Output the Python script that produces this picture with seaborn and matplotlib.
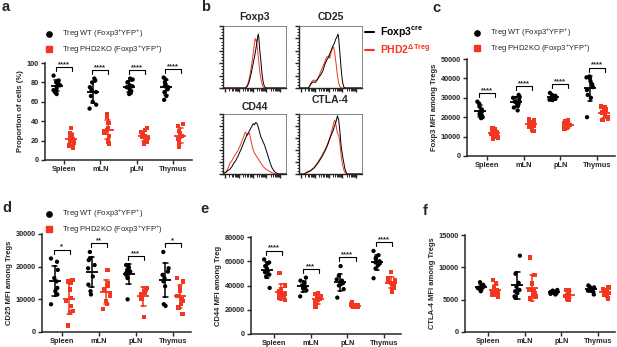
import numpy as np
import pandas as pd
import seaborn as sns
import matplotlib.pyplot as plt
from matplotlib.lines import Line2D

sns.set_style("ticks")
plt.rcParams['font.family'] = ['Liberation Sans', 'DejaVu Sans']
plt.rcParams['mathtext.fontset'] = 'custom'
plt.rcParams['mathtext.rm'] = 'Liberation Sans'
plt.rcParams['mathtext.bf'] = 'Liberation Sans:bold'
plt.rcParams['mathtext.it'] = 'Liberation Sans:italic'
np.random.seed(7)  # only for horizontal jitter of the dots

W, H = 617, 347
RED = '#f2361f'
tissues = ["Spleen", "mLN", "pLN", "Thymus"]
groups = ["WT", "KO"]
wt_label = r"Treg WT (Foxp3$^{+}$YFP$^{+}$)"
ko_label = r"Treg PHD2KO (Foxp3$^{+}$YFP$^{+}$)"

# a: proportion of cells (%)
prop_wt = [[87, 82, 80, 79, 77, 76, 74, 72, 70, 68],
           [84, 82, 80, 75, 72, 70, 66, 60, 57, 53],
           [84, 83, 80, 77, 76, 75, 73, 71, 69, 68],
           [85, 83, 80, 78, 76, 75, 73, 70, 66, 62]]
prop_ko = [[33, 28, 26, 24, 22, 21, 20, 18, 15, 13],
           [47, 44, 38, 33, 31, 30, 28, 25, 19, 17],
           [33, 31, 29, 27, 25, 24, 23, 21, 19, 17],
           [37, 35, 30, 28, 25, 24, 22, 19, 16, 14]]
# c: Foxp3 MFI
foxp3_wt = [[28000, 27000, 25500, 24000, 23000, 22500, 21500, 21000, 20000, 19500],
            [31500, 30500, 30000, 29000, 28000, 27500, 27000, 26000, 25000, 23500],
            [32500, 31500, 31000, 30500, 30000, 30000, 29500, 29500, 29000, 28800],
            [41000, 40500, 40000, 38500, 37000, 35500, 34000, 31500, 30000, 20000]]
foxp3_ko = [[14500, 14000, 13000, 12500, 12000, 11500, 11000, 10000, 9500, 9000],
            [19000, 18500, 18000, 17500, 16500, 16000, 15500, 15000, 13500, 13000],
            [18500, 18000, 17000, 16500, 16000, 15500, 15000, 14500, 14000, 13800],
            [25500, 25000, 24000, 23500, 22500, 22000, 21000, 20000, 19000, 18500]]
# d: CD25 MFI
cd25_wt = [[22500, 21500, 19000, 16500, 15500, 13500, 12500, 11500, 8500],
           [24500, 22500, 22000, 20500, 19500, 17000, 14500, 12500, 11500],
           [20500, 20000, 19500, 19000, 18500, 18000, 17500, 16500, 10000],
           [24500, 19500, 18500, 17500, 16500, 15500, 14000, 8500, 8000]]
cd25_ko = [[16000, 15500, 15000, 13000, 10500, 9500, 8000, 6500, 6000, 2000],
           [19000, 15000, 14000, 13000, 12000, 11000, 9500, 8500, 7000],
           [13500, 13000, 12500, 12000, 11500, 10500, 10000, 4500],
           [16500, 15500, 13500, 12500, 11000, 10000, 9500, 8500, 7500, 5500]]
# e: CD44 MFI
cd44_wt = [[61500, 59000, 58000, 56000, 54000, 52000, 51000, 49000, 47500, 38000],
           [46500, 44000, 42000, 40000, 39000, 38500, 37500, 36000, 31000],
           [56000, 48000, 45000, 44000, 43000, 42000, 41000, 40000, 37000, 30000],
           [68500, 65000, 63000, 62000, 60000, 59000, 58000, 56500, 54000, 46000]]
cd44_ko = [[50500, 40000, 37000, 35000, 34000, 33000, 32000, 30500, 29500, 28000],
           [34000, 33000, 31500, 30000, 29000, 28500, 27500, 25000, 22000],
           [26000, 25000, 24000, 23500, 23500, 23000, 23000, 22500, 22500, 22000],
           [51000, 46000, 44000, 43000, 42000, 41000, 40000, 38000, 35000]]
# f: CTLA-4 MFI
ctla4_wt = [[7700, 7300, 7100, 7000, 6900, 6800, 6700, 6500, 6300],
            [11800, 9000, 7600, 7000, 6500, 6300, 6000, 5500, 5300],
            [6500, 6400, 6300, 6200, 6200, 6100, 6100, 6000, 5900, 5800],
            [7200, 7000, 6900, 6700, 6600, 6500, 6400, 6200, 5800]]
ctla4_ko = [[8000, 7500, 6900, 6500, 6300, 6100, 6000, 5900, 5700, 5500],
            [11500, 8800, 7500, 6500, 6300, 6000, 5800, 5500, 5300, 5200],
            [6500, 6400, 6200, 6000, 5800, 5700, 5600, 5400, 5200, 5000],
            [6900, 6700, 6500, 6300, 6200, 6100, 6000, 5800, 5600, 5200]]

# b: flow histograms (x = % of axis, y = % of max)
foxp3_x_b = [0, 36, 38, 41, 44, 47, 50, 52, 54, 55, 56, 57, 58, 60, 62, 64, 66, 68, 100]
foxp3_y_b = [0, 0, 2, 8, 20, 35, 50, 62, 75, 82, 87, 80, 65, 45, 22, 8, 2, 0, 0]
foxp3_x_r = [0, 35, 38, 41, 44, 47, 49, 51, 52, 53, 55, 57, 59, 61, 63, 65, 100]
foxp3_y_r = [0, 0, 3, 12, 28, 48, 65, 80, 76, 78, 60, 40, 22, 10, 3, 0, 0]
cd25_x_b = [0, 15, 17, 20, 23, 26, 29, 32, 35, 38, 41, 44, 47, 50, 53, 56, 58, 60, 62, 63, 65, 67, 69, 71, 73, 100]
cd25_y_b = [0, 0, 3, 8, 10, 9, 13, 18, 22, 28, 38, 45, 50, 58, 66, 72, 78, 82, 87, 80, 55, 30, 10, 2, 0, 0]
cd25_x_r = [0, 15, 17, 20, 23, 26, 29, 32, 35, 38, 41, 44, 47, 49, 51, 53, 55, 57, 59, 61, 63, 65, 67, 100]
cd25_y_r = [0, 0, 4, 10, 13, 12, 14, 20, 28, 35, 42, 50, 52, 48, 58, 64, 66, 55, 38, 20, 8, 2, 0, 0]
cd44_x_b = [0, 5, 8, 11, 14, 17, 20, 23, 26, 29, 32, 35, 38, 41, 44, 46, 48, 50, 52, 54, 56, 58, 60, 63, 66, 69, 72, 75, 78, 81, 84, 88, 100]
cd44_y_b = [0, 3, 6, 8, 12, 18, 22, 28, 35, 42, 50, 58, 65, 70, 76, 80, 84, 82, 86, 84, 78, 70, 62, 55, 48, 38, 28, 18, 10, 5, 2, 0, 0]
cd44_x_r = [0, 5, 8, 11, 14, 17, 20, 23, 26, 29, 32, 34, 36, 38, 40, 42, 44, 46, 48, 50, 53, 56, 59, 62, 66, 70, 74, 78, 83, 100]
cd44_y_r = [0, 4, 10, 18, 22, 28, 33, 38, 44, 52, 60, 66, 70, 64, 66, 68, 58, 48, 40, 35, 30, 25, 20, 15, 10, 7, 4, 2, 0, 0]
ctla4_x_b = [0, 8, 12, 18, 24, 30, 36, 42, 46, 50, 54, 57, 59, 61, 63, 65, 67, 70, 73, 76, 100]
ctla4_y_b = [0, 0, 2, 5, 10, 18, 28, 40, 50, 62, 72, 82, 88, 97, 90, 70, 45, 25, 8, 0, 0]
ctla4_x_r = [0, 8, 12, 18, 24, 30, 36, 42, 46, 50, 53, 55, 57, 59, 61, 63, 65, 67, 69, 72, 75, 100]
ctla4_y_r = [0, 0, 3, 6, 11, 20, 30, 42, 52, 64, 76, 85, 90, 80, 68, 65, 50, 30, 15, 4, 0, 0]


def rect(l, t, r, b):
    return [l / W, 1 - b / H, (r - l) / W, (b - t) / H]


def to_long(wt, ko):
    rows = []
    for t, w, k in zip(tissues, wt, ko):
        rows += [(t, "WT", v) for v in w]
        rows += [(t, "KO", v) for v in k]
    return pd.DataFrame(rows, columns=["tissue", "group", "value"])


def scatter_panel(box, wt, ko, ymax, step, ylabel, stars, xlim):
    ax = fig.add_axes(rect(*box))
    df = to_long(wt, ko)
    pal = {"WT": "black", "KO": RED}
    for g, m in zip(groups, ["o", "s"]):
        sns.stripplot(data=df[df.group == g], x="tissue", y="value", hue="group",
                      hue_order=groups, order=tissues, dodge=True, jitter=0.2,
                      palette=pal, marker=m, size=3.1, legend=False, ax=ax)
    sns.pointplot(data=df, x="tissue", y="value", hue="group", hue_order=groups,
                  order=tissues, dodge=0.4, palette=pal, errorbar="sd", markers="_",
                  markersize=9, markeredgewidth=1.3, linestyle="none", capsize=0.12,
                  err_kws={"linewidth": 1.1}, legend=False, ax=ax)
    if stars:
        for i, t in enumerate(tissues):
            top = df[df.tissue == t].value.max()
            yb = top + 0.09 * ymax
            ax.plot([i - 0.22, i - 0.22, i + 0.22, i + 0.22],
                    [yb - 0.04 * ymax, yb, yb, yb - 0.04 * ymax],
                    color="black", lw=0.8, clip_on=False)
            ax.text(i, yb - 0.01 * ymax, stars[i], ha="center", va="bottom",
                    fontsize=5.5, fontweight="bold")
    ax.set_xlim(xlim)
    ax.set_ylim(0, ymax)
    ax.set_yticks(np.arange(0, ymax + 1, step))
    ax.set_xlabel("")
    ax.set_ylabel(ylabel, fontsize=5.5, fontweight="bold", labelpad=2)
    ax.tick_params(labelsize=5.3, width=1, length=3, pad=1.5)
    for lab in ax.get_xticklabels() + ax.get_yticklabels():
        lab.set_fontweight("bold")
    sns.despine(ax=ax)
    ax.spines[["left", "bottom"]].set_linewidth(1.1)
    return ax


def scatter_legend(ax, x, y):
    h = [Line2D([], [], ls="none", marker="o", color="black", ms=3.8),
         Line2D([], [], ls="none", marker="s", color=RED, ms=3.8)]
    ax.legend(h, [wt_label, ko_label], loc="upper left", bbox_to_anchor=(x / W, 1 - y / H),
              bbox_transform=fig.transFigure, frameon=False, fontsize=5.5,
              handlelength=1, handletextpad=1.2, labelspacing=0.45,
              borderpad=0, borderaxespad=0)


def hist_panel(box, title, bx, by, rx, ry, pad):
    ax = fig.add_axes(rect(*box))
    sns.lineplot(x=rx, y=ry, color=RED, lw=0.7, estimator=None, ax=ax)
    sns.lineplot(x=bx, y=by, color="black", lw=0.7, estimator=None, ax=ax)
    ax.set_xlim(0, 100)
    ax.set_ylim(0, 100)
    dec = [3, 25, 47, 69]
    ax.set_xticks(dec + [91])
    ax.set_xticks([d + 22 * np.log10(k) for d in dec for k in range(2, 10)], minor=True)
    ax.set_yticks(np.arange(0, 101, 20))
    ax.set_yticks(np.arange(0, 101, 5), minor=True)
    ax.tick_params(labelbottom=False, labelleft=False, length=3, width=1.0, pad=1)
    ax.tick_params(which="minor", length=1.8, width=0.7)
    for s in ["top", "right"]:
        ax.spines[s].set_linewidth(0.5)
        ax.spines[s].set_color("#555555")
    ax.spines[["left", "bottom"]].set_linewidth(1.0)
    ax.set_title(title, fontsize=7.5, fontweight="bold", pad=pad)
    return ax


fig = plt.figure(figsize=(W / 100, H / 100), dpi=100)

ax_a = scatter_panel((45, 63, 192, 160), prop_wt, prop_ko, 100, 20,
                     "Proportion of cells (%)", ["****"] * 4, (-0.52, 3.52))
scatter_legend(ax_a, 45, 28)
ax_c = scatter_panel((467, 59, 615, 156), foxp3_wt, foxp3_ko, 50000, 10000,
                     "Foxp3 MFI among Tregs", ["****"] * 4, (-0.55, 3.49))
scatter_legend(ax_c, 473, 27)
ax_d = scatter_panel((42, 234, 191, 332), cd25_wt, cd25_ko, 30000, 10000,
                     "CD25 MFI among Tregs", ["*", "**", "***", "*"], (-0.54, 3.49))
scatter_legend(ax_d, 45, 208)
ax_e = scatter_panel((251, 237, 401, 334), cd44_wt, cd44_ko, 80000, 20000,
                     "CD44 MFI among Treg", ["****", "***", "****", "****"], (-0.63, 3.46))
ax_f = scatter_panel((465, 235, 615, 332), ctla4_wt, ctla4_ko, 15000, 5000,
                     "CTLA-4 MFI among Tregs", None, (-0.63, 3.46))

hist_panel((223, 26, 286, 88), "Foxp3", foxp3_x_b, foxp3_y_b, foxp3_x_r, foxp3_y_r, 4)
ax_cd25 = hist_panel((299, 26, 362, 88), "CD25", cd25_x_b, cd25_y_b, cd25_x_r, cd25_y_r, 4)
hist_panel((223, 114, 286, 174), "CD44", cd44_x_b, cd44_y_b, cd44_x_r, cd44_y_r, 3)
hist_panel((299, 114, 362, 174), "CTLA-4", ctla4_x_b, ctla4_y_b, ctla4_x_r, ctla4_y_r, 8)

hh = [Line2D([], [], color="black", lw=1.5), Line2D([], [], color=RED, lw=1.5)]
ax_cd25.legend(hh, [r"Foxp3$^{\mathbf{cre}}$", r"PHD2$^{\mathbf{\Delta Treg}}$"],
               loc="upper left", bbox_to_anchor=(365 / W, 1 - 25 / H),
               bbox_transform=fig.transFigure, frameon=False,
               prop={"weight": "bold", "size": 7.5}, labelcolor="linecolor",
               handlelength=0.9, handletextpad=0.5, labelspacing=0.2,
               borderpad=0, borderaxespad=0)

for lab, x, y in [("a", 2, 11), ("b", 201, 11), ("c", 432, 12),
                  ("d", 2, 212), ("e", 200, 213), ("f", 423, 215)]:
    fig.text(x / W, 1 - y / H, lab, fontsize=10.5, fontweight="bold", va="baseline")

fig.savefig("out.png", dpi=100)
